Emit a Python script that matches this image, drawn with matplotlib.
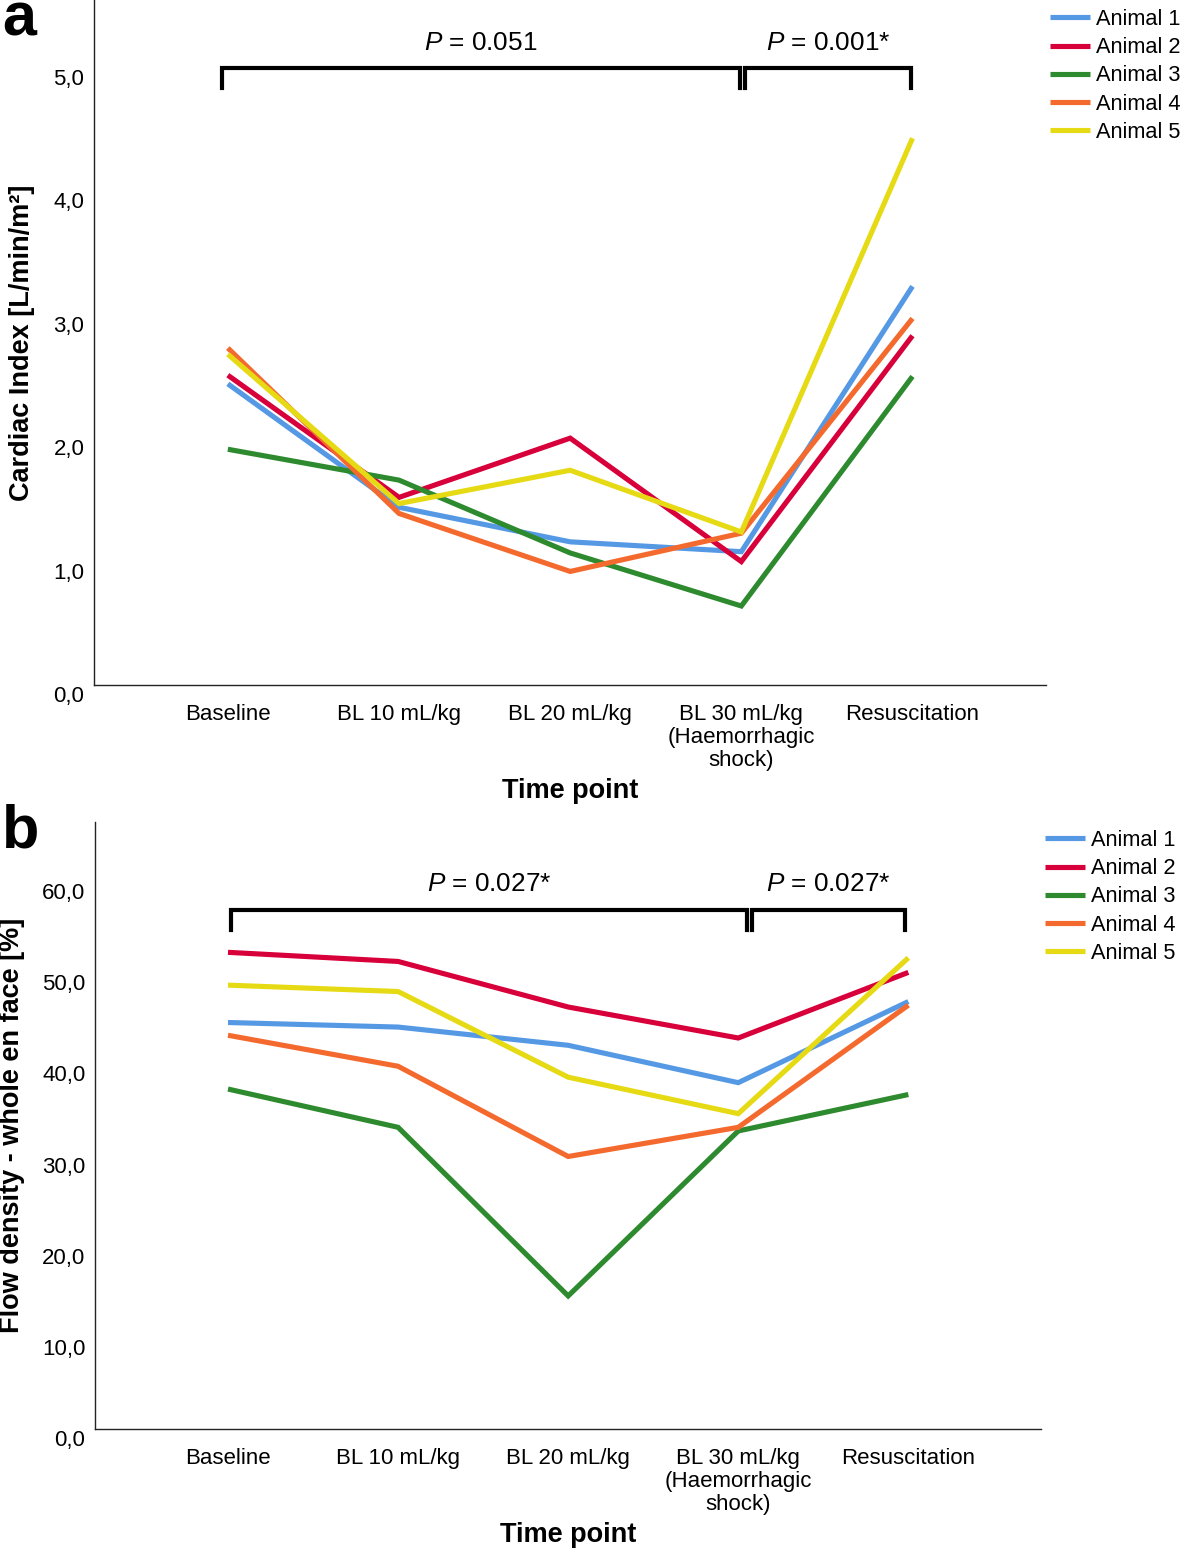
import matplotlib
matplotlib.use("Agg")
import matplotlib.pyplot as plt
from matplotlib.transforms import ScaledTranslation

plt.rcParams['font.family'] = ['Liberation Sans', 'DejaVu Sans']
plt.rcParams['mathtext.fontset'] = 'custom'
plt.rcParams['mathtext.it'] = 'Liberation Sans:italic'
plt.rcParams['mathtext.rm'] = 'Liberation Sans'

# data
time_points = ["Baseline", "BL 10 mL/kg", "BL 20 mL/kg",
               "BL 30 mL/kg\n(Haemorrhagic\nshock)", "Resuscitation"]
animals = ["Animal 1", "Animal 2", "Animal 3", "Animal 4", "Animal 5"]
colors = ["#5599E4", "#D8003A", "#2E8A2E", "#F46A2E", "#E6DA14"]

ci_animal1 = [2.44, 1.44, 1.16, 1.08, 3.23]
ci_animal2 = [2.51, 1.52, 2.00, 1.00, 2.83]
ci_animal3 = [1.91, 1.66, 1.07, 0.64, 2.50]
ci_animal4 = [2.73, 1.39, 0.92, 1.23, 2.97]
ci_animal5 = [2.68, 1.47, 1.74, 1.24, 4.43]

fd_animal1 = [44.6, 44.1, 42.1, 38.0, 46.9]
fd_animal2 = [52.3, 51.3, 46.3, 42.9, 50.1]
fd_animal3 = [37.3, 33.1, 14.6, 32.7, 36.7]
fd_animal4 = [43.2, 39.8, 29.9, 33.1, 46.5]
fd_animal5 = [48.7, 48.0, 38.6, 34.6, 51.7]

ci_ticks = [0, 1, 2, 3, 4, 5]
ci_ticklabels = ["0,0", "1,0", "2,0", "3,0", "4,0", "5,0"]
fd_ticks = [0, 10, 20, 30, 40, 50, 60]
fd_ticklabels = ["0,0", "10,0", "20,0", "30,0", "40,0", "50,0", "60,0"]

ci_p_labels = ["$P$ = 0.051", "$P$ = 0.001*"]
fd_p_labels = ["$P$ = 0.027*", "$P$ = 0.027*"]

ci_series = [ci_animal1, ci_animal2, ci_animal3, ci_animal4, ci_animal5]
fd_series = [fd_animal1, fd_animal2, fd_animal3, fd_animal4, fd_animal5]

W, H = 1181, 1550
fig = plt.figure(figsize=(W / 100, H / 100), dpi=100)
ax_a = fig.add_axes([94 / W, 1 - 685 / H, (1046 - 94) / W, 685 / H])
ax_b = fig.add_axes([95 / W, 1 - 1429 / H, (1041 - 95) / W, (1429 - 822) / H])

x = list(range(len(time_points)))


def style_axis(ax, series, ticks, ticklabels, ymax, ylabel, ylab_x, xlab_y,
               brackets, p_labels, p_y, legend_xy):
    for vals, name, c in zip(series, animals, colors):
        ax.plot(x, vals, color=c, lw=3.7, label=name,
                solid_joinstyle='miter', solid_capstyle='butt')
    ax.set_xlim(-0.782, 4.78)
    ax.set_ylim(0, ymax)
    ax.set_xticks(x)
    ax.set_xticklabels(time_points, fontsize=16, linespacing=1.12)
    ax.set_yticks(ticks)
    ax.set_yticklabels(ticklabels, fontsize=16)
    ax.tick_params(axis='x', length=0, pad=14)
    ax.tick_params(axis='y', length=0, pad=7)
    off = ScaledTranslation(0, -0.09, fig.dpi_scale_trans)
    for lab in ax.get_yticklabels():
        lab.set_transform(lab.get_transform() + off)
    for s in ['top', 'right']:
        ax.spines[s].set_visible(False)
    for s in ['left', 'bottom']:
        ax.spines[s].set_linewidth(1.0)
        ax.spines[s].set_color('#222222')
    ax.set_xlabel("Time point", fontsize=19.5, fontweight='bold')
    ax.xaxis.set_label_coords(0.5, xlab_y)
    ax.xaxis.label.set_va('center')
    ax.set_ylabel(ylabel, fontsize=19.5, fontweight='bold')
    ax.yaxis.set_label_coords(ylab_x, 0.5)
    ax.yaxis.label.set_va('center')
    for (x0, x1, ylo, yhi), lab in zip(brackets, p_labels):
        ax.plot([x0, x0, x1, x1], [ylo, yhi, yhi, ylo], color='black', lw=3,
                solid_joinstyle='miter', clip_on=False)
        ax.text((x0 + x1) / 2, p_y, lab, ha='center', va='center', fontsize=18.8)
    ax.legend(loc='upper left', bbox_to_anchor=legend_xy,
              bbox_transform=fig.transFigure, frameon=False, fontsize=15.7,
              handlelength=1.85, handletextpad=0.28, labelspacing=0.33,
              borderpad=0, borderaxespad=0)


style_axis(ax_a, ci_series, ci_ticks, ci_ticklabels, 5.55,
           "Cardiac Index [L/min/m²]", -0.0756, -0.1547,
           [(-0.035, 2.99, 4.84, 5.0), (3.02, 3.99, 4.84, 5.0)],
           ci_p_labels, 5.2, (1050 / W, 1 - 9 / H))
style_axis(ax_b, fd_series, fd_ticks, fd_ticklabels, 66.6,
           "Flow density - whole en face [%]", -0.0877, -0.1746,
           [(0.018, 3.05, 54.7, 56.9), (3.08, 3.98, 54.7, 56.9)],
           fd_p_labels, 59.8, (1045 / W, 1 - 830 / H))

fig.text(2 / W, 1 - 35 / H, "a", fontsize=44, fontweight='bold',
         ha='left', va='baseline')
fig.text(2 / W, 1 - 847 / H, "b", fontsize=44, fontweight='bold',
         ha='left', va='baseline')

fig.savefig("out.png", dpi=100)
